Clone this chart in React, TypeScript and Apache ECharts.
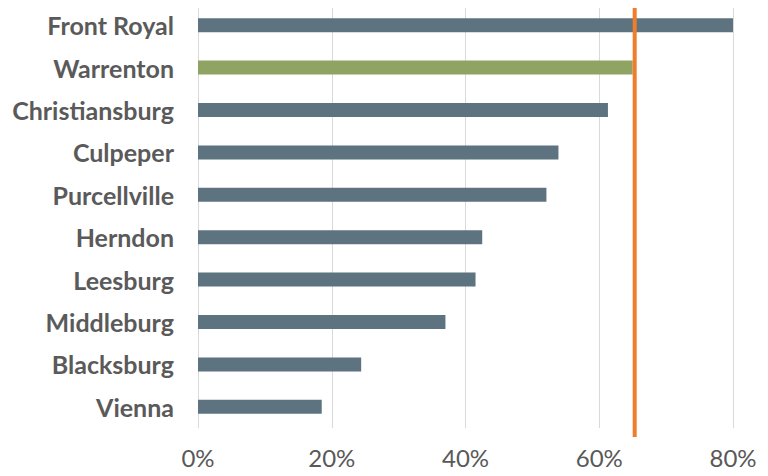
import React, { useEffect, useRef } from "react";
import * as echarts from "echarts";

const categories = ["Front Royal", "Warrenton", "Christiansburg", "Culpeper", "Purcellville", "Herndon", "Leesburg", "Middleburg", "Blacksburg", "Vienna"];
const values = [80, 65, 61.3, 53.9, 52.1, 42.5, 41.5, 37.0, 24.4, 18.5];
const highlight = "Warrenton";
const referenceValue = [65.3];
const xTicks = [0, 20, 40, 60, 80];

export default function App() {
  const ref = useRef<HTMLDivElement>(null);
  useEffect(() => {
    const chart = echarts.init(ref.current!, null, { renderer: "svg" });
    chart.setOption({
      animation: false,
      grid: { left: 198, right: 35, top: 4, bottom: 48, containLabel: false },
      xAxis: {
        type: "value",
        min: xTicks[0],
        max: xTicks[xTicks.length - 1],
        interval: 20,
        axisLine: { show: false },
        axisTick: { show: false },
        splitLine: { lineStyle: { color: "#D9D9D9", width: 1 } },
        axisLabel: {
          formatter: (v: number) => `${v}%`,
          color: "#595959",
          fontFamily: "Lato",
          fontSize: 24,
          margin: 17,
        },
      },
      yAxis: {
        type: "category",
        data: categories,
        inverse: true,
        axisLine: { show: false },
        axisTick: { show: false },
        axisLabel: {
          color: "#5A5A5A",
          fontFamily: "Lato",
          fontWeight: "bold",
          fontSize: 25,
          margin: 24,
        },
      },
      series: [
        {
          type: "bar",
          barWidth: 14,
          data: values.map((v, i) => ({
            value: v,
            itemStyle: { color: categories[i] === highlight ? "#8FA462" : "#5D737F" },
          })),
        },
        {
          type: "custom",
          data: referenceValue.map((v) => [v, 0]),
          z: 10,
          renderItem: (params: any, api: any) => {
            const p = api.coord([api.value(0), 0]);
            return {
              type: "line",
              shape: { x1: p[0], y1: 0, x2: p[0], y2: 437 },
              style: { stroke: "#F07D2C", lineWidth: 4 },
            };
          },
        },
      ],
    });
    return () => chart.dispose();
  }, []);
  return <div ref={ref} style={{ width: 768, height: 476, margin: -8 }} />;
}
